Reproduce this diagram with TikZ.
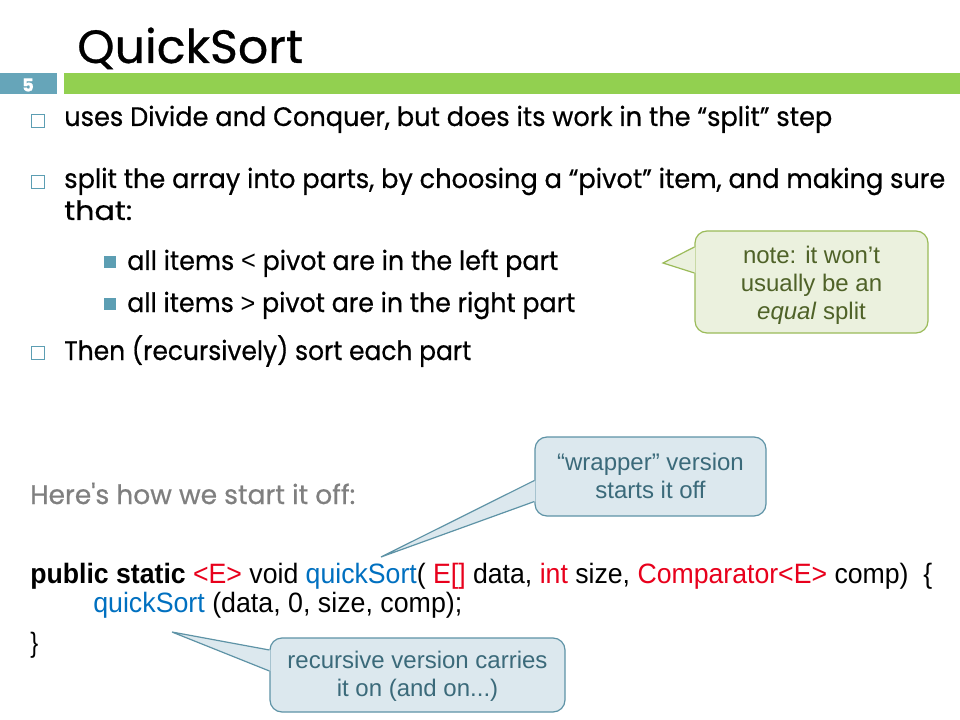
\documentclass[tikz,border=0pt]{standalone}
\usepackage{fontspec}
\setmainfont{Poppins}[Ligatures=TeXOff, FakeBold=0.6]
\newfontfamily\codefont{Liberation Sans}
\usepackage{graphicx}
\usetikzlibrary{calc}
\definecolor{barGreen}{HTML}{92D050}
\definecolor{numTeal}{HTML}{66A5B9}
\definecolor{bulTeal}{HTML}{5C9EB3}
\definecolor{cred}{HTML}{E8001C}
\definecolor{cblue}{HTML}{0070C0}
\definecolor{gFill}{HTML}{EBF1DE}
\definecolor{gLine}{HTML}{9BBB59}
\definecolor{gText}{HTML}{4F6228}
\definecolor{bFill}{HTML}{DCE8EE}
\definecolor{bLine}{HTML}{5E93A6}
\definecolor{bText}{HTML}{3B6A7A}
\definecolor{grayText}{HTML}{7F7F7F}
\newcommand\fitto[2]{\sbox0{#2}\edef\myfac{\fpeval{#1*0.75/(\the\wd0)}}\scalebox{\myfac}[1]{\usebox0}}
\tikzset{
  line/.style={anchor=base west, inner sep=0pt, font=\fontsize{20}{24}\selectfont},
  codeline/.style={anchor=base west, inner sep=0pt, font=\codefont\fontsize{21}{24}\selectfont},
  hollowbul/.style={draw=bulTeal, line width=0.9pt, minimum size=9.2pt, inner sep=0pt},
  solidbul/.style={fill=bulTeal, minimum size=9pt, inner sep=0pt},
  notetext/.style={align=center, font=\codefont\fontsize{18}{21}\selectfont, inner sep=0pt},
  gnote/.style={draw=gLine, fill=gFill, line width=0.9pt, rounded corners=9pt},
  bnote/.style={draw=bLine, fill=bFill, line width=0.9pt, rounded corners=9pt},
}
\begin{document}
\begin{tikzpicture}[x=0.75pt,y=-0.75pt]
\useasboundingbox[fill=white] (0,0) rectangle (960,720);
% title
\node[anchor=base west, inner sep=0pt, font=\fontsize{35}{40}\selectfont] (title) at (77,63) {\fitto{226}{QuickSort}};
% header bars
\node[fill=numTeal, minimum width=42.75pt, minimum height=15.75pt, inner sep=0pt, anchor=north west] (numbox) at (0,73) {};
\node[fill=barGreen, minimum width=672pt, minimum height=15.75pt, inner sep=0pt, anchor=north west] (bar) at (64,73) {};
\node[text=white, font=\bfseries\fontsize{13.5}{14}\selectfont, inner sep=0pt, anchor=base] (num) at (28,91.5) {5};
% bullets
\node[hollowbul] (b1) at (38,121) {};
\node[line] (t1) at (64,126) {\fitto{768}{uses Divide and Conquer, but does its work in the “split” step}};
\node[hollowbul] (b2) at (38,182) {};
\node[line] (t2) at (64,188) {\fitto{881}{split the array into parts, by choosing a “pivot” item, and making sure}};
\node[line] (t2b) at (64,220) {\fitto{68}{that:}};
\node[solidbul] (s1) at (110,262) {};
\node[line] (u1) at (127,270) {\fitto{431}{all items {\codefont<} pivot are in the left part}};
\node[solidbul] (s2) at (110,304) {};
\node[line] (u2) at (127,312) {\fitto{448}{all items {\codefont>} pivot are in the right part}};
\node[hollowbul] (b3) at (38,353) {};
\node[line] (t3) at (64,360) {\fitto{407}{Then (recursively) sort each part}};
% intro
\node[line, text=grayText] (here) at (30,504) {\fitto{325}{Here's how we start it off:}};
% code
\node[codeline] (code1) at (30,583) {\fitto{902}{\textbf{public static} \textcolor{cred}{<E>} void \textcolor{cblue}{quickSort}( \textcolor{cred}{E[]} data, \textcolor{cred}{int} size, \textcolor{cred}{Comparator<E>} comp)\ \ \{}};
\node[codeline] (code2) at (93,612) {\fitto{369}{\textcolor{cblue}{quickSort} (data, 0, size, comp);}};
\node[codeline] (code3) at (30,652) {\scalebox{0.85}[1]{\}}};
% green note
\node[gnote, minimum width=174.75pt, minimum height=76.5pt] (note) at (811.5,282) {};
\coordinate (notetip) at (663,263);
\fill[gFill] ($(note.west)+(1,-35)$) -- (notetip) -- ($(note.west)+(1,-9)$) -- cycle;
\draw[gLine, line width=0.9pt] ($(note.west)+(0,-35)$) -- (notetip) -- ($(note.west)+(0,-9)$);
\node[notetext, text=gText] (notetxt) at ($(note.center)+(0,3)$) {note: it won’t\\usually be an\\\textit{equal} split};
% wrapper note
\node[bnote, minimum width=173.25pt, minimum height=59.25pt] (wrap) at (650.5,476.5) {};
\coordinate (wraptip) at (381,557);
\fill[bFill] ($(wrap.west)+(1,4)$) -- (wraptip) -- ($(wrap.west)+(1,25)$) -- cycle;
\draw[bLine, line width=0.9pt] ($(wrap.west)+(0,4)$) -- (wraptip) -- ($(wrap.west)+(0,25)$);
\node[notetext, text=bText] (wraptxt) at ($(wrap.center)+(0,-1)$) {“wrapper” version\\starts it off};
% recursive note
\node[bnote, minimum width=221.25pt, minimum height=55.5pt] (rec) at (417.5,675) {};
\coordinate (rectip) at (172,632);
\fill[bFill] ($(rec.west)+(1,-25)$) -- (rectip) -- ($(rec.west)+(1,-4)$) -- cycle;
\draw[bLine, line width=0.9pt] ($(rec.west)+(0,-25)$) -- (rectip) -- ($(rec.west)+(0,-4)$);
\node[notetext, text=bText] (rectxt) at ($(rec.center)+(0,1)$) {recursive version carries\\it on (and on...)};
\end{tikzpicture}
\end{document}
